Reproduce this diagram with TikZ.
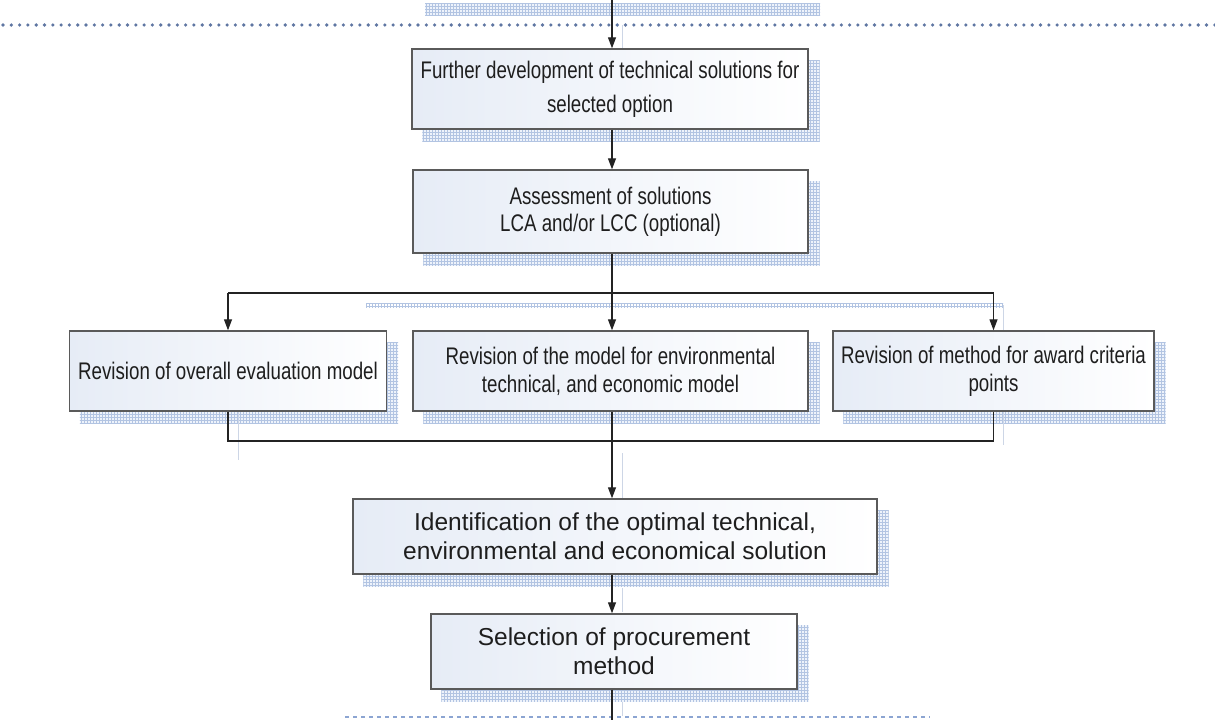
\documentclass[tikz,border=0pt]{standalone}
\usepackage{fontspec}
\setmainfont{Liberation Sans}
\newfontfamily\narrowfont[FakeStretch=0.78]{Liberation Sans}
\usetikzlibrary{arrows.meta,patterns}

\definecolor{boxline}{RGB}{90,90,90}
\definecolor{boxtint}{RGB}{230,236,246}
\definecolor{txt}{RGB}{30,30,30}
\definecolor{hatch}{RGB}{178,196,226}
\definecolor{hatchbg}{RGB}{238,243,251}
\definecolor{dotblue}{RGB}{95,118,162}
\definecolor{dashblue}{RGB}{140,165,210}
\definecolor{conn}{RGB}{35,35,35}
\definecolor{faint}{RGB}{205,214,230}

\pgfdeclarelayer{background}
\pgfsetlayers{background,main}

\begin{document}
\begin{tikzpicture}[x=1pt,y=-1pt,
  flowbox/.style={draw=boxline, line width=1.4pt, left color=boxtint, right color=white,
    inner sep=0pt, align=center, text=txt},
  narrowtext/.style={font=\narrowfont\fontsize{24}{#1}\selectfont},
  widetext/.style={font=\fontsize{24.5}{29}\selectfont},
  link/.style={draw=conn, line width=1.2pt},
  arr/.style={link, -{Triangle[length=11pt,width=8pt]}},
  shadowfill/.style={fill=hatchbg},
  shadowgrid/.style={pattern=grid, pattern color=hatch},
  topdots/.style={draw=dotblue, line width=3.6pt, line cap=round, dash pattern=on 0pt off 8.3pt},
  botdots/.style={draw=dashblue, line width=2.4pt, dash pattern=on 4pt off 4pt},
  faintline/.style={draw=faint, line width=0.9pt}
]
\useasboundingbox (0,0) rectangle (1215,720);

% section separators
\draw[topdots] (3,25) -- (1215,25);
\draw[botdots] (345,717) -- (930,717);

% process boxes
\node[flowbox, narrowtext=34, minimum width=396pt, minimum height=80pt] (b1) at (610,89)
  {Further development of technical solutions for\\selected option};
\node[flowbox, narrowtext=27, minimum width=395pt, minimum height=83pt] (b2) at (610.5,211.5)
  {Assessment of solutions\\LCA and/or LCC (optional)};
\node[flowbox, narrowtext=28, minimum width=317pt, minimum height=80pt] (r1) at (228,371)
  {Revision of overall evaluation model};
\node[flowbox, narrowtext=28, minimum width=395pt, minimum height=80pt] (r2) at (610.5,371)
  {Revision of the model for environmental\\technical, and economic model};
\node[flowbox, narrowtext=28, minimum width=321pt, minimum height=80pt] (r3) at (993.5,371)
  {Revision of method for award criteria\\points};
\node[flowbox, widetext, minimum width=524pt, minimum height=75pt] (b4) at (615,536.5)
  {Identification of the optimal technical,\\environmental and economical solution};
\node[flowbox, widetext, minimum width=366pt, minimum height=75pt] (b5) at (614,651.5)
  {Selection of procurement\\method};

% page ground, hatched drop shadows and connector shadows
\begin{pgfonlayer}{background}
  \fill[white] (0,0) rectangle (1215,720);
  % shadow strip of the box above the cut
  \fill[shadowfill] (425,3) rectangle (820,15);
  \fill[shadowgrid] (425,3) rectangle (820,15);
  \foreach \n in {b1,b2,r1,r2,r3,b4,b5} {
    \fill[shadowfill] ([shift={(11,12)}]\n.north west) rectangle ([shift={(11,12)}]\n.south east);
    \fill[shadowgrid] ([shift={(11,12)}]\n.north west) rectangle ([shift={(11,12)}]\n.south east);
  }
  \fill[shadowgrid] (366,303) rectangle (1003,307);
  \draw[faintline] (622,25) -- (622,49);
  \draw[faintline] (238,411) -- (238,460);
  \draw[faintline] (1003,305) -- (1003,445);
  \draw[faintline] (622,453) -- (622,498);
  \draw[faintline] (622,588) -- (622,612);
  \draw[faintline] (622,702) -- (622,716);
\end{pgfonlayer}

% main axis and branching points
\coordinate (ax) at (612,0);
\coordinate (split) at (612,293);
\coordinate (join) at (612,441);
\coordinate (tail) at (612,720);

% connectors
\draw[arr] (ax) -- (b1.north -| ax);
\draw[arr] (b1.south -| ax) -- (b2.north -| ax);
\draw[link] (b2.south -| ax) -- (split);
\draw[link] (split -| r1.north) -- (split -| r3.north);
\draw[arr] (split -| r1.north) -- (r1.north);
\draw[arr] (split) -- (r2.north -| ax);
\draw[arr] (split -| r3.north) -- (r3.north);
\draw[link] (r1.south) -- (join -| r1.south) -- (join -| r3.south) -- (r3.south);
\draw[arr] (r2.south -| ax) -- (b4.north -| ax);
\draw[arr] (b4.south -| ax) -- (b5.north -| ax);
\draw[link] (b5.south -| ax) -- (tail);
\end{tikzpicture}
\end{document}
